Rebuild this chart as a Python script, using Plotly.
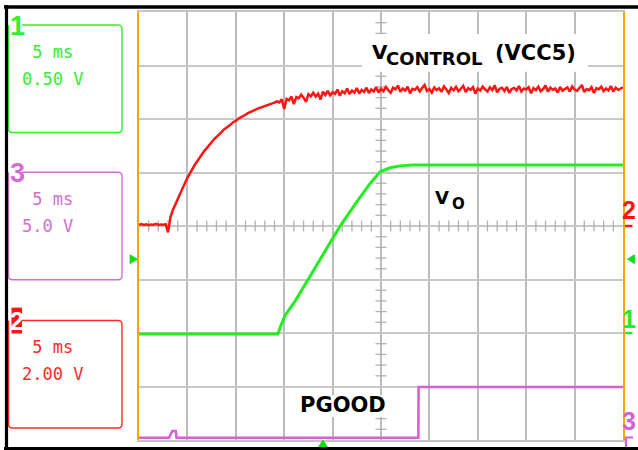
import numpy as np
import plotly.graph_objects as go

# ---------------- scope settings ----------------
MS_PER_DIV = 5.0
N_HDIV, N_VDIV = 10, 8
SAMPLE_MS = 0.25                      # sample spacing of the VCONTROL record

CH1_V_PER_DIV, CH1_GROUND_DIV = 0.50, -2.0   # V_O
CH2_V_PER_DIV, CH2_GROUND_DIV = 2.00, 0.0    # V_CONTROL (VCC5)
CH3_V_PER_DIV, CH3_GROUND_DIV = 5.0, -4.0    # PGOOD

TRIGGER_MS = 19.0
TRIGGER_LEVEL_V = 0.69                # on channel 1

CHANNEL_READOUTS = [
    # (channel, time/div, volts/div)
    ("1", "5 ms", "0.50 V"),
    ("3", "5 ms", "5.0 V"),
    ("2", "5 ms", "2.00 V"),
]

# ---------------- captured waveforms ----------------
# channel 2: V_CONTROL, volts, one sample every SAMPLE_MS from t = 0
vcontrol_v = [
    0.05, 0.07, 0.04, 0.06, 0.03, 0.06, 0.05, 0.08, 0.04, 0.06, 0.05, 0.07,
    -0.24, 0.33, 0.60, 0.81, 1.05, 1.22, 1.45, 1.61, 1.80, 1.97,
    2.11, 2.28, 2.41, 2.56, 2.67, 2.81, 2.91, 3.04, 3.13, 3.24,
    3.32, 3.43, 3.50, 3.60, 3.66, 3.75, 3.80, 3.89, 3.93, 4.01,
    4.05, 4.12, 4.16, 4.22, 4.25, 4.31, 4.34, 4.39, 4.42, 4.47,
    4.49, 4.53, 4.55, 4.59, 4.61, 4.66, 4.62, 4.74, 4.38, 4.75,
    4.70, 4.84, 4.56, 4.82, 4.77, 4.91, 4.80, 4.64, 4.93, 4.85,
    4.98, 4.84, 4.95, 4.73, 5.02, 4.90, 5.05, 4.88, 5.00, 4.94,
    5.10, 4.87, 5.04, 4.96, 5.14, 4.93, 5.06, 4.98, 5.16, 4.95,
    5.09, 5.01, 5.17, 4.97, 5.11, 5.03, 5.19, 4.99, 5.13,
    5.04, 5.20, 5.08, 4.98, 5.17, 5.11, 5.25, 5.02, 5.14, 5.06,
    5.21, 4.96, 5.13, 5.09, 5.19, 5.03, 5.16, 5.27, 5.05, 5.12,
    4.99, 5.18, 5.08, 5.15, 5.02, 5.22, 5.10, 4.97, 5.16, 5.07,
    5.20, 5.04, 5.13, 5.24, 5.01, 5.15, 5.09, 5.19, 4.95, 5.14,
    5.06, 5.21, 5.11, 5.03, 5.18, 5.08, 5.26, 5.00, 5.13, 5.17,
    5.05, 5.20, 4.98, 5.12, 5.16, 5.07, 5.23, 5.03, 5.14, 5.10,
    5.19, 4.96, 5.15, 5.08, 5.21, 5.04, 5.12, 5.25, 5.02, 5.17,
    5.09, 5.14, 4.99, 5.20, 5.06, 5.13, 5.18, 5.03, 5.22, 5.10,
    5.05, 5.16, 5.27, 5.01, 5.12, 5.08, 5.19, 4.97, 5.15, 5.11,
    5.21, 5.04, 5.14, 5.07, 5.23, 5.02, 5.17, 5.09, 5.13, 5.18,
]
assert len(vcontrol_v) == 201, len(vcontrol_v)

# channel 1: V_O
vo_t_ms = [0.0, 14.35, 14.6, 15.1, 16.13, 17.68, 19.23, 20.71, 22.51,
           23.88, 24.91, 25.94, 26.97, 28.32, 50.0]
vo_v = [-0.01, -0.01, 0.056, 0.167, 0.298, 0.532, 0.766, 0.989, 1.228,
        1.398, 1.507, 1.544, 1.562, 1.569, 1.569]

# channel 3: PGOOD
pgood_t_ms = [0.0, 3.1, 3.45, 3.8, 3.88, 28.86, 28.88, 50.0]
pgood_v = [0.21, 0.21, 0.84, 0.84, 0.21, 0.21, 4.96, 4.96]

# ---------------- geometry ----------------
W, H = 638, 450
ML, MR, MT, MB = 139, 15, 10, 10
PW, PH = W - ML - MR, H - MT - MB
T_SPAN = MS_PER_DIV * N_HDIV
HALF_V = N_VDIV / 2

RED, GREEN, MAGENTA = "#ff1414", "#22ee22", "#d660d6"
TRIG_GREEN = "#11dd11"
ORANGE, GRID = "#ffa500", "#bcbcbc"


def to_div(v, v_per_div, ground):
    return np.asarray(v, dtype=float) / v_per_div + ground


def XP(x):            # pixel -> paper
    return (x - ML) / PW


def YP(y):
    return 1 - (y - MT) / PH


def XD(x):            # pixel -> time axis
    return (x - ML) / PW * T_SPAN


def YD(y):            # pixel -> division axis
    return HALF_V - (y - MT) / PH * N_VDIV


def div_to_px(d):
    return MT + PH * (HALF_V - d) / N_VDIV


def ms_to_px(t):
    return ML + PW * t / T_SPAN


t_red = np.arange(len(vcontrol_v)) * SAMPLE_MS

fig = go.Figure()
fig.add_trace(go.Scatter(x=pgood_t_ms, y=to_div(pgood_v, CH3_V_PER_DIV, CH3_GROUND_DIV),
                         mode="lines", line=dict(color=MAGENTA, width=2.6), hoverinfo="skip"))
fig.add_trace(go.Scatter(x=vo_t_ms, y=to_div(vo_v, CH1_V_PER_DIV, CH1_GROUND_DIV),
                         mode="lines", line=dict(color=GREEN, width=3), hoverinfo="skip"))
fig.add_trace(go.Scatter(x=t_red, y=to_div(vcontrol_v, CH2_V_PER_DIV, CH2_GROUND_DIV),
                         mode="lines", line=dict(color=RED, width=2.5), hoverinfo="skip"))

shapes = []
# minor ticks on the centre cross of the graticule
tick_h = 5.5 / PH * N_VDIV
tick_w = 5.5 / PW * T_SPAN
for k in range(1, N_HDIV * 5):
    if k % 5:
        x = k * MS_PER_DIV / 5
        shapes.append(dict(type="line", xref="x", yref="y", x0=x, x1=x, y0=-tick_h, y1=tick_h,
                           line=dict(color="#b0b0b0", width=1.3), layer="between"))
for k in range(-N_VDIV * 5 // 2 + 1, N_VDIV * 5 // 2):
    if k % 5:
        y = k / 5
        shapes.append(dict(type="line", xref="x", yref="y", x0=T_SPAN / 2 - tick_w, x1=T_SPAN / 2 + tick_w,
                           y0=y, y1=y, line=dict(color="#b0b0b0", width=1.3), layer="between"))

# white patches behind the trace captions
for (x0, y0, x1, y1) in [(362, 32, 588, 70), (296, 395, 392, 417)]:
    shapes.append(dict(type="rect", xref="x", yref="y", x0=XD(x0), x1=XD(x1), y0=YD(y1), y1=YD(y0),
                       fillcolor="white", line=dict(width=0), layer="between"))


def tri(points, color):
    p = "M " + " L ".join(f"{XP(x)},{YP(y)}" for x, y in points) + " Z"
    return dict(type="path", xref="paper", yref="paper", path=p, fillcolor=color,
                line=dict(color=color, width=0.8), layer="above")


# trigger indicators: level on both edges, position on the bottom edge
ty = div_to_px(float(to_div(TRIGGER_LEVEL_V, CH1_V_PER_DIV, CH1_GROUND_DIV)))
tx = ms_to_px(TRIGGER_MS)
shapes.append(tri([(130, ty - 4.5), (130, ty + 4.5), (137.5, ty)], TRIG_GREEN))
shapes.append(tri([(634.5, ty - 4.5), (634.5, ty + 4.5), (627.5, ty)], TRIG_GREEN))
shapes.append(tri([(tx - 4.5, 447), (tx + 4.5, 447), (tx, 440)], TRIG_GREEN))


def rounded_box(x0, y0, x1, y1, gap_x, color, r=4):
    p = (f"M {XP(gap_x)},{YP(y0)} L {XP(x1 - r)},{YP(y0)} Q {XP(x1)},{YP(y0)} {XP(x1)},{YP(y0 + r)} "
         f"L {XP(x1)},{YP(y1 - r)} Q {XP(x1)},{YP(y1)} {XP(x1 - r)},{YP(y1)} "
         f"L {XP(x0 + r)},{YP(y1)} Q {XP(x0)},{YP(y1)} {XP(x0)},{YP(y1 - r)} L {XP(x0)},{YP(y0)}")
    return dict(type="path", xref="paper", yref="paper", path=p, line=dict(color=color, width=1.4), layer="above")


box_colors = {"1": "#33ee33", "3": "#d36ed3", "2": "#ff2a2a"}
box_tops = {"1": 23, "3": 171, "2": 320}
for ch, _, _ in CHANNEL_READOUTS:
    y0 = box_tops[ch]
    shapes.append(rounded_box(8.5, y0, 122, y0 + 108, 22, box_colors[ch]))
# red tag behind the channel-2 number
shapes.append(dict(type="rect", xref="paper", yref="paper", x0=XP(11.5), x1=XP(22), y0=YP(333), y1=YP(307),
                   fillcolor=RED, line=dict(width=0), layer="above"))

# ground-level markers on the right edge
for gnd, col in [(CH2_GROUND_DIV, RED), (CH1_GROUND_DIV, GREEN)]:
    yy = div_to_px(gnd)
    shapes.append(dict(type="line", xref="paper", yref="paper", x0=XP(625), x1=XP(632.5), y0=YP(yy), y1=YP(yy),
                       line=dict(color=col, width=2.4), layer="above"))
shapes.append(dict(type="path", xref="paper", yref="paper",
                   path=f"M {XP(626)},{YP(447)} L {XP(626)},{YP(437.5)} L {XP(633)},{YP(437.5)}",
                   line=dict(color=MAGENTA, width=2.2), layer="above"))

# outer black frame
for (x0, y0, x1, y1, w) in [(4, 5, 638, 5, 3.5), (6.5, 3, 6.5, 450, 3.2), (4, 448.5, 638, 448.5, 3)]:
    shapes.append(dict(type="line", xref="paper", yref="paper", x0=XP(x0), x1=XP(x1), y0=YP(y0), y1=YP(y1),
                       line=dict(color="black", width=w), layer="above"))

annotations = []


def ann(text, x, y, size, color, family, xanchor="center", weight="normal"):
    annotations.append(dict(text=text, x=XP(x), y=YP(y), xref="paper", yref="paper", showarrow=False,
                            xanchor=xanchor, yanchor="middle", borderpad=0,
                            font=dict(size=size, color=color, family=family, weight=weight)))


MONO = "DejaVu Sans Mono"
NARROW = "Liberation Sans Narrow, Liberation Sans"
BOLD = "DejaVu Sans"
for ch, tdiv, vdiv in CHANNEL_READOUTS:
    y0 = box_tops[ch]
    col = box_colors[ch]
    ann("\u00a0" + tdiv, 21, y0 + 27, 17, col, MONO, xanchor="left")
    ann(vdiv, 21, y0 + 54, 17, col, MONO, xanchor="left")
    if ch == "2":
        ann(ch, 16.8, 320.5, 25, "white", NARROW, weight="bold")
    else:
        ann(ch, 17, y0 + 1, 27, col, NARROW, weight="bold")

# channel numbers on the right edge, sitting on each ground level
ann("2", 629, div_to_px(CH2_GROUND_DIV) - 16, 25, RED, NARROW, weight="bold")
ann("1", 629, div_to_px(CH1_GROUND_DIV) - 14.5, 25, GREEN, NARROW, weight="bold")
ann("3", 628.5, div_to_px(CH3_GROUND_DIV) - 19, 25, MAGENTA, NARROW, weight="bold")

# trace captions
ann("V", 370.5, 50.5, 20, "black", BOLD, xanchor="left", weight="bold")
ann("CONTROL", 385, 56.5, 18, "black", BOLD, xanchor="left", weight="bold")
ann("(VCC5)", 494, 51.5, 21, "black", BOLD, xanchor="left", weight="bold")
ann("V", 433.5, 196, 18, "black", BOLD, xanchor="left", weight="bold")
ann("O", 450.5, 203, 15, "black", BOLD, xanchor="left", weight="bold")
ann("PGOOD", 298.5, 404.5, 21, "black", BOLD, xanchor="left", weight="bold")

fig.update_layout(
    width=W, height=H,
    margin=dict(l=ML, r=MR, t=MT, b=MB, pad=0),
    paper_bgcolor="white", plot_bgcolor="white",
    showlegend=False,
    shapes=shapes, annotations=annotations,
    xaxis=dict(range=[0, T_SPAN], dtick=MS_PER_DIV, tick0=0, showgrid=True, gridcolor=GRID, gridwidth=1.6,
               zeroline=False, showticklabels=False, ticks="", showline=True, mirror=True,
               linecolor="#c4c4c4", linewidth=1.6, fixedrange=True),
    yaxis=dict(range=[-HALF_V, HALF_V], dtick=1, tick0=0, showgrid=True, gridcolor="#c8c8c8", gridwidth=1.6,
               zeroline=False, showticklabels=False, ticks="", showline=True, mirror=True,
               linecolor=ORANGE, linewidth=1.6, fixedrange=True),
)

fig.write_html("out.html")
